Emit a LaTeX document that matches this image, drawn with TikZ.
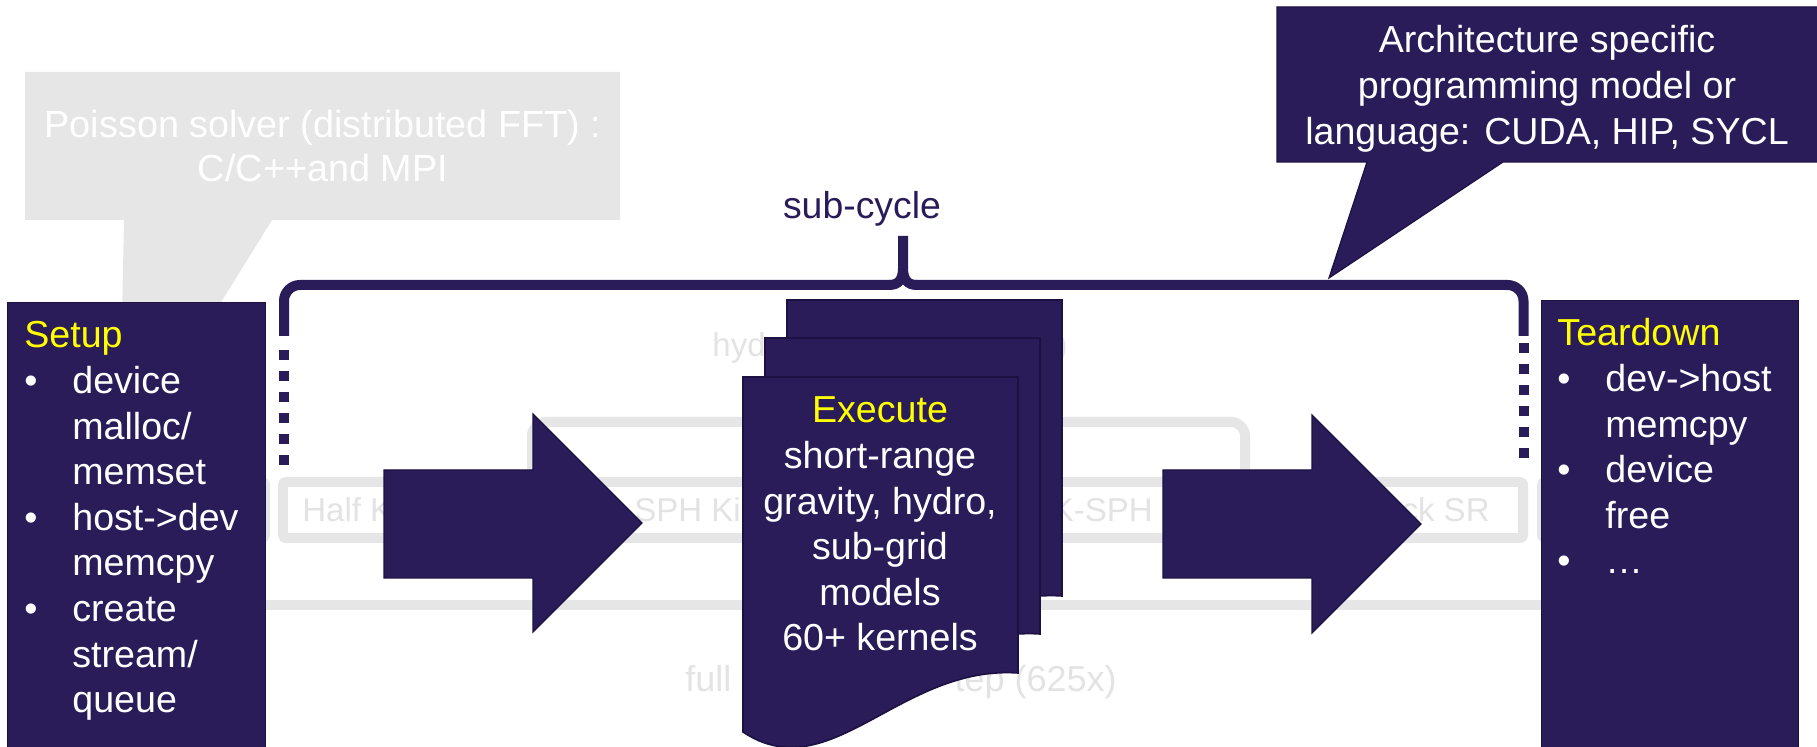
\documentclass[tikz,border=0pt]{standalone}
\usepackage{fontspec}
\setmainfont{Liberation Sans}
\definecolor{navy}{HTML}{2A1B59}
\definecolor{navyedge}{HTML}{1C1142}
\definecolor{callgrey}{HTML}{E6E6E6}
\definecolor{rowgrey}{HTML}{E6E6E6}
\definecolor{fadetext}{HTML}{E3E3E3}
\definecolor{hiyellow}{HTML}{FFFF00}
\newcommand\bodyfont{\fontsize{18.8}{22.8}\selectfont}
\newcommand\rowfont{\fontsize{16.5}{20}\selectfont}
\newcommand\stepfont{\fontsize{18}{20}\selectfont}
\begin{document}
\begin{tikzpicture}[x=0.5pt,y=-0.5pt,
  panel/.style={fill=navy, draw=navyedge, line width=0.6pt},
  bodytext/.style={inner sep=0pt, text=white, font=\bodyfont},
  faint/.style={inner sep=0pt, text=fadetext, font=\rowfont},
  greyline/.style={draw=rowgrey, line width=5pt},
  rowbox/.style={fill=rowgrey, rounded corners=4pt},
  bracestroke/.style={draw=navy, line width=5pt},
  dotted bar/.style={draw=navy, line width=5pt, dash pattern=on 5pt off 5.5pt}]
\useasboundingbox (0,0) rectangle (1817,747);
\fill[white] (0,0) rectangle (1817,747);

% ---- faint background: stage row, hydro bracket, full-step line ----
\draw[greyline] (250,605) -- (1560,605);
\fill[rowbox] (150,477) rectangle (270,543);
\fill[white] (160,487) rectangle (260,533);
\fill[rowbox] (278,477) rectangle (1528,543);
\fill[white] (288,487) rectangle (1518,533);
\fill[rowbox] (1537,477) rectangle (1700,543);
\fill[white] (1547,487) rectangle (1690,533);
\draw[greyline, rounded corners=7pt] (532,478) -- (532,422) -- (1245,422) -- (1245,478);

\node[faint, anchor=base west] (halfk) at (302,522) {Half K};
\node[faint, anchor=base west] (sphk) at (634,522) {SPH Ki};
\node[faint, anchor=base east] (ksph) at (1153,522) {K-SPH};
\node[faint, anchor=base east] (cksr) at (1490,522) {ck SR};
\node[faint, anchor=base west] (hyd) at (712,357) {hyd};
\node[faint, anchor=base east] (paren) at (1068,357) {)};
\node[faint, font=\stepfont, anchor=base west] (full) at (685,692) {full};
\node[faint, font=\stepfont, anchor=base east] (tep) at (1117,692) {tep (625x)};

% ---- grey callout: Poisson solver ----
\fill[callgrey] (25,72) -- (620,72) -- (620,220) -- (272,220) -- (210,320)
  -- (122,320) -- (124,220) -- (25,220) -- cycle;
\node[inner sep=0pt, text=white, font=\fontsize{18.9}{22}\selectfont, anchor=base]
  (poisson) at (323,138)
  {\begin{tabular}[t]{@{}c@{}}Poisson solver (distributed FFT) :\\C/C++and MPI\end{tabular}};

% ---- setup and teardown panels ----
\node[panel, anchor=north west, minimum width=129pt, minimum height=229pt, inner sep=0pt]
  (setup) at (7,302) {};
\node[panel, anchor=north west, minimum width=128.5pt, minimum height=230pt, inner sep=0pt]
  (teardown) at (1541,300) {};

% ---- block arrows ----
\path[panel] (384,470) -- (533,470) -- (533,414) -- (642,523) -- (533,632)
  -- (533,578) -- (384,578) -- cycle;
\path[panel] (1163,470) -- (1312,470) -- (1312,415) -- (1421,524) -- (1312,633)
  -- (1312,578) -- (1163,578) -- cycle;

% ---- stacked kernel pages ----
\foreach \dx/\dy in {44/-77, 22/-39, 0/0} {
  \path[panel, line width=0.8pt, shift={(743+\dx,377+\dy)}]
    (0,0) -- (275,0) -- (275,296) .. controls (157,288) and (87,413) .. (0,355) -- cycle;
}

% ---- architecture callout ----
\path[panel] (1277,7) -- (1822,7) -- (1822,162) -- (1503,162) -- (1329,278)
  -- (1367,162) -- (1277,162) -- cycle;

% ---- sub-cycle brace ----
\coordinate (braceL) at (284,336);
\coordinate (braceR) at (1523.5,336);
\coordinate (braceTip) at (903,236);
\draw[bracestroke, rounded corners=8pt] (braceL) -- (284,285) -- (890,285);
\draw[bracestroke] (889,285) .. controls (899,285) and (903,279) .. (903,268) -- (braceTip);
\draw[bracestroke] (903,268) .. controls (903,279) and (907,285) .. (917,285);
\draw[bracestroke, rounded corners=8pt] (916,285) -- (1523.5,285) -- (braceR);
\draw[dotted bar] (284,350) -- (284,466);
\draw[dotted bar] (1523.5,343) -- (1523.5,459);
\node[inner sep=0pt, text=navy, font=\fontsize{18.7}{22}\selectfont, anchor=base]
  (subcycle) at (862,219) {sub-cycle};

% ---- panel texts ----
\node[bodytext, anchor=base] (archtext) at (1547,53)
  {\begin{tabular}[t]{@{}c@{}}Architecture specific\\programming model or\\language: CUDA, HIP, SYCL\end{tabular}};

\node[bodytext, anchor=base west] (setuptext) at (24,348)
  {\begin{tabular}[t]{@{}p{24pt}@{}l@{}}
   \multicolumn{2}{@{}l@{}}{\color{hiyellow}Setup}\\
   • & device\\
     & malloc/\\
     & memset\\
   • & host->dev\\
     & memcpy\\
   • & create\\
     & stream/\\
     & queue
  \end{tabular}};

\node[bodytext, anchor=base west] (teardowntext) at (1557,346)
  {\begin{tabular}[t]{@{}p{24pt}@{}l@{}}
   \multicolumn{2}{@{}l@{}}{\color{hiyellow}Teardown}\\
   • & dev->host\\
     & memcpy\\
   • & device\\
     & free\\
   • & …
  \end{tabular}};

\node[bodytext, anchor=base] (exectext) at (880,423)
  {\begin{tabular}[t]{@{}c@{}}
   {\color{hiyellow}Execute}\\
   short-range\\
   gravity, hydro,\\
   sub-grid\\
   models\\
   60+ kernels
  \end{tabular}};
\end{tikzpicture}
\end{document}
